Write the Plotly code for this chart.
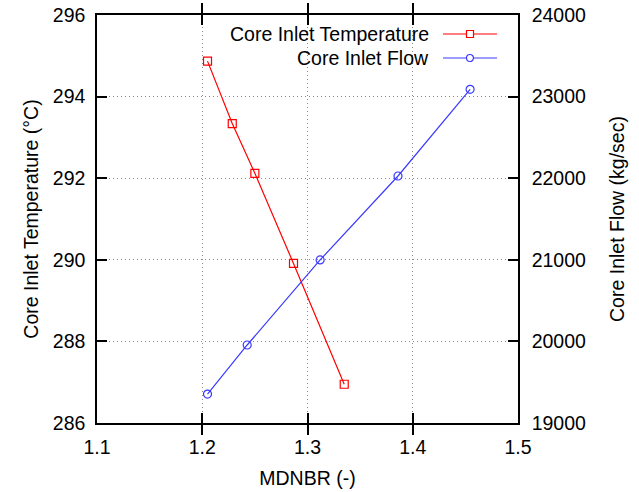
import plotly.graph_objects as go

# MDNBR sensitivity: core inlet temperature (left axis) and core inlet flow (right axis)
temp_mdnbr = [1.205, 1.2285, 1.250, 1.2867, 1.3349]
temp_values = [294.87, 293.34, 292.12, 289.91, 286.95]

flow_mdnbr = [1.205, 1.2427, 1.312, 1.386, 1.4545]
flow_values = [19355, 19956, 20998, 22027, 23089]

temp_name = "Core Inlet Temperature"
flow_name = "Core Inlet Flow"

RED = "#ff0000"
BLUE = "#3a3aff"
FONT = "Liberation Sans, Arial, sans-serif"
FS = 19.5

fig = go.Figure()
fig.add_trace(go.Scatter(
    x=temp_mdnbr, y=temp_values, name=temp_name, mode="lines+markers",
    line=dict(color=RED, width=1.2),
    marker=dict(symbol="square-open", size=8, color=RED, line=dict(width=1.2)),
    yaxis="y", showlegend=False,
))
fig.add_trace(go.Scatter(
    x=flow_mdnbr, y=flow_values, name=flow_name, mode="lines+markers",
    line=dict(color=BLUE, width=1.2),
    marker=dict(symbol="circle-open", size=8, color=BLUE, line=dict(width=1.2)),
    yaxis="y2", showlegend=False,
))

axis_common = dict(
    showline=True, linecolor="black", linewidth=1.5,
    ticks="inside", ticklen=10, tickwidth=1.5, tickcolor="black",
    tickfont=dict(family=FONT, size=FS, color="black"),
    zeroline=False, automargin=False,
)

fig.update_layout(
    width=639, height=492,
    margin=dict(l=97, r=121, t=15, b=69),
    paper_bgcolor="white", plot_bgcolor="white",
    font=dict(family=FONT, size=FS, color="black"),
    xaxis=dict(
        range=[1.1, 1.5], dtick=0.1, tick0=1.1, tickformat=".1f",
        mirror="allticks",
        showgrid=True, gridcolor="#8a8a8a", gridwidth=1, griddash="1px,3px",
        title=dict(text="MDNBR (-)", font=dict(family=FONT, size=FS), standoff=14),
        ticklabelstandoff=6,
        **axis_common,
    ),
    yaxis=dict(
        range=[286, 296], dtick=2, tick0=286,
        mirror=True,
        showgrid=True, gridcolor="#8a8a8a", gridwidth=1, griddash="1px,3px",
        title=dict(text="Core Inlet Temperature (°C)", font=dict(family=FONT, size=FS), standoff=9),
        ticklabelstandoff=6,
        **axis_common,
    ),
    yaxis2=dict(
        range=[19000, 24000], dtick=1000, tick0=19000, tickformat="d",
        overlaying="y", side="right",
        showgrid=False,
        title=dict(text="Core Inlet Flow (kg/sec)", font=dict(family=FONT, size=FS), standoff=25),
        ticklabelstandoff=8,
        **axis_common,
    ),
)

# Key: right-aligned series names followed by a line sample with its marker
W, H = 421, 408
def px_x(p):
    return (p - 97) / W
def px_y(p):
    return (423 - p) / H

key_rows = [(temp_name, RED, "rect", 34), (flow_name, BLUE, "circle", 58)]
for name, color, shape, ypix in key_rows:
    fig.add_annotation(
        x=px_x(431), y=px_y(ypix), xref="paper", yref="paper",
        xanchor="right", yanchor="middle", showarrow=False,
        text=name, font=dict(family=FONT, size=FS, color="black"),
    )
    fig.add_shape(
        type="line", xref="paper", yref="paper",
        x0=px_x(443), x1=px_x(497), y0=px_y(ypix), y1=px_y(ypix),
        line=dict(color=color, width=1.2),
    )
    fig.add_shape(
        type=shape, xref="paper", yref="paper",
        xsizemode="pixel", ysizemode="pixel",
        xanchor=px_x(470), yanchor=px_y(ypix),
        x0=-3.5, x1=3.5, y0=-3.5, y1=3.5,
        line=dict(color=color, width=1.2), fillcolor="white",
    )

fig.write_html("out.html")
